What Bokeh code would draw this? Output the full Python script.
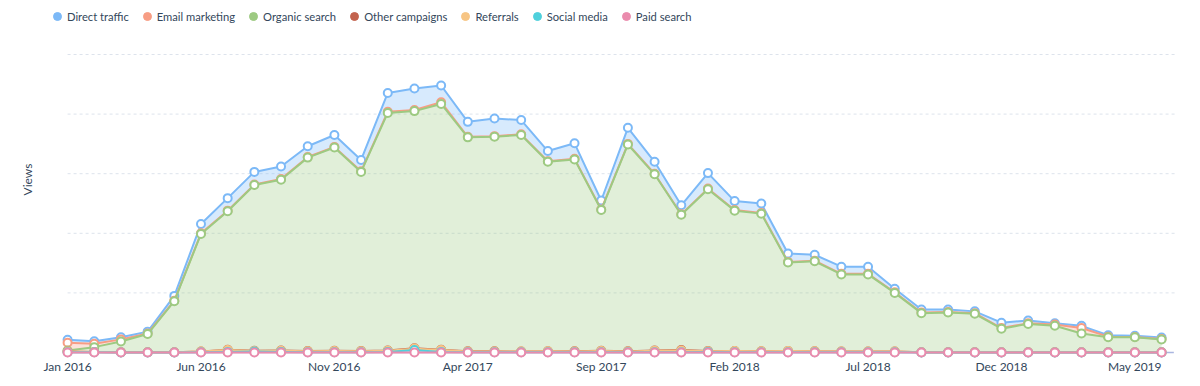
import numpy as np
from bokeh.plotting import figure
from bokeh.models import ColumnDataSource, Range1d, FixedTicker, Legend, LegendItem
from bokeh.transform import stack
from bokeh.embed import file_html
from bokeh.resources import INLINE

# ---------------- data ----------------
month_names = ["Jan", "Feb", "Mar", "Apr", "May", "Jun", "Jul", "Aug", "Sep", "Oct", "Nov", "Dec"]
months = [f"{m} {y}" for y in (2016, 2017, 2018, 2019) for m in month_names][:42]  # Jan 2016 .. Jun 2019
tick_labels = ["Jan 2016", "Jun 2016", "Nov 2016", "Apr 2017", "Sep 2017",
               "Feb 2018", "Jul 2018", "Dec 2018", "May 2019"]
grid_values = [1000, 2000, 3000, 4000, 5000]

direct = [50, 45, 36, 30, 80, 156, 210, 210, 210, 180, 200, 190, 315, 360, 280, 250, 295, 240, 170, 260,
          150, 270, 200, 150, 260, 150, 160, 140, 100, 120, 120, 60, 50, 40, 30, 90, 46, 20, 37, 24, 19, 25]
email = [130, 55, 36, 10, 10, 10, 10, 10, 10, 10, 10, 10, 20, 20, 30, 10, 10, 10, 10, 10,
         10, 10, 10, 10, 10, 10, 10, 10, 10, 10, 10, 10, 10, 10, 10, 10, 10, 20, 90, 10, 5, 5]
organic = [18, 80, 179, 305, 855, 1975, 2325, 2780, 2865, 3245, 3410, 3005, 3985, 3980, 4125, 3590, 3600,
           3635, 3180, 3220, 2360, 3470, 2955, 2270, 2715, 2355, 2310, 1485, 1510, 1295, 1295, 985, 655,
           665, 645, 395, 475, 445, 315, 251, 251, 215]
other = [0, 0, 0, 0, 0, 0, 5, 5, 5, 5, 5, 5, 5, 5, 5, 5, 5, 0, 0, 5, 5,
         5, 5, 5, 5, 0, 0, 0, 0, 0, 0, 0, 0, 0, 0, 0, 0, 0, 0, 0, 0, 0]
referrals = [10, 5, 5, 5, 5, 10, 30, 10, 20, 15, 20, 15, 20, 25, 30, 10, 10, 10, 15, 10, 20,
             10, 25, 30, 10, 20, 15, 20, 15, 10, 10, 10, 5, 5, 5, 5, 5, 5, 5, 5, 5, 5]
social = [5, 5, 0, 0, 0, 5, 10, 15, 10, 5, 5, 5, 10, 40, 10, 5, 5, 5, 5, 5, 5,
          5, 5, 5, 10, 5, 5, 5, 5, 5, 5, 5, 0, 0, 0, 0, 0, 0, 0, 0, 0, 0]
paid = [0, 0, 0, 0, 0, 0, 0, 0, 0, 0, 0, 0, 0, 0, 0, 0, 0, 0, 0, 0, 0,
        0, 0, 0, 0, 0, 0, 0, 0, 0, 0, 0, 0, 0, 0, 0, 0, 0, 0, 0, 0, 0]

series_names = ["Direct traffic", "Email marketing", "Organic search", "Other campaigns",
                "Referrals", "Social media", "Paid search"]
series_keys = ["direct", "email", "organic", "other", "referrals", "social", "paid"]
series_colors = ["#7cb9f7", "#f79d84", "#9dca82", "#c3634e", "#f7c584", "#4fd0dc", "#ea8bad"]

source = ColumnDataSource(dict(
    x=list(range(len(months))), month=months,
    direct=direct, email=email, organic=organic, other=other,
    referrals=referrals, social=social, paid=paid,
))

FONT = "Lato"
TEXT = "#33475b"
X_START, X_END = -0.79, 41.56

p = figure(width=1184, height=378, output_backend="svg", toolbar_location=None,
           min_border_left=46, min_border_right=8, min_border_top=0, min_border_bottom=20,
           x_range=Range1d(X_START, X_END), y_range=Range1d(-100.7, 5906))
p.outline_line_color = None
p.background_fill_color = "white"
p.border_fill_color = "white"

# dashed horizontal grid lines, starting at the first month
p.segment(x0=0, x1=X_END, y0=grid_values, y1=grid_values,
          line_color="#dde3ec", line_dash="3 3", line_width=1, level="underlay")
# baseline (x axis line)
p.segment(x0=[-0.08], x1=[X_END - 0.1], y0=[0], y1=[0],
          line_color="#aab6e0", line_width=1.5, level="underlay")

# stacked series (bottom-up order is reversed legend order)
bottom_up = series_keys[::-1]
for name, key, col in zip(series_names, series_keys, series_colors):
    j = bottom_up.index(key)
    lower = stack(*bottom_up[:j]) if j > 0 else 0
    upper = stack(*bottom_up[:j + 1])
    p.varea(x="x", y1=lower, y2=upper, source=source, fill_color=col, fill_alpha=0.3)
    p.line(x="x", y=upper, source=source, line_color=col, line_width=2)
    p.scatter(x="x", y=upper, source=source, size=8, fill_color="white",
              line_color=col, line_width=2)

# legend with dummy filled dots
items = []
for name, col in zip(series_names, series_colors):
    r = p.scatter(x=[np.nan], y=[np.nan], size=8, fill_color=col, line_color=col)
    items.append(LegendItem(label=name, renderers=[r]))
legend = Legend(items=items, orientation="horizontal", location=(1, 332),
                label_text_font=FONT, label_text_font_size="11.2px", label_text_color=TEXT,
                glyph_width=20, glyph_height=20, label_standoff=-4, spacing=8,
                padding=0, margin=0, border_line_color=None, background_fill_alpha=0)
p.add_layout(legend)

# axes
p.xaxis.ticker = FixedTicker(ticks=[months.index(t) for t in tick_labels])
p.xaxis.major_label_overrides = {months.index(t): t for t in tick_labels}
p.xaxis.axis_line_color = None
p.xaxis.major_tick_line_color = None
p.xaxis.minor_tick_line_color = None
p.xaxis.major_tick_out = 0
p.xaxis.major_label_standoff = 0
p.xaxis.major_label_text_font = FONT
p.xaxis.major_label_text_font_size = "12px"
p.xaxis.major_label_text_color = TEXT

# y axis: no tick labels, only the title
p.yaxis.ticker = FixedTicker(ticks=[], minor_ticks=[])
p.yaxis.axis_line_color = None
p.yaxis.major_tick_line_color = None
p.yaxis.minor_tick_line_color = None
p.yaxis.major_tick_out = 0
p.yaxis.major_label_standoff = 0
p.yaxis.axis_label = "Views"
p.yaxis.axis_label_standoff = 12
p.yaxis.axis_label_text_font = FONT
p.yaxis.axis_label_text_font_size = "12px"
p.yaxis.axis_label_text_font_style = "normal"
p.yaxis.axis_label_text_color = TEXT

p.xgrid.grid_line_color = None
p.ygrid.grid_line_color = None

open("out.html", "w").write(file_html(p, INLINE))
